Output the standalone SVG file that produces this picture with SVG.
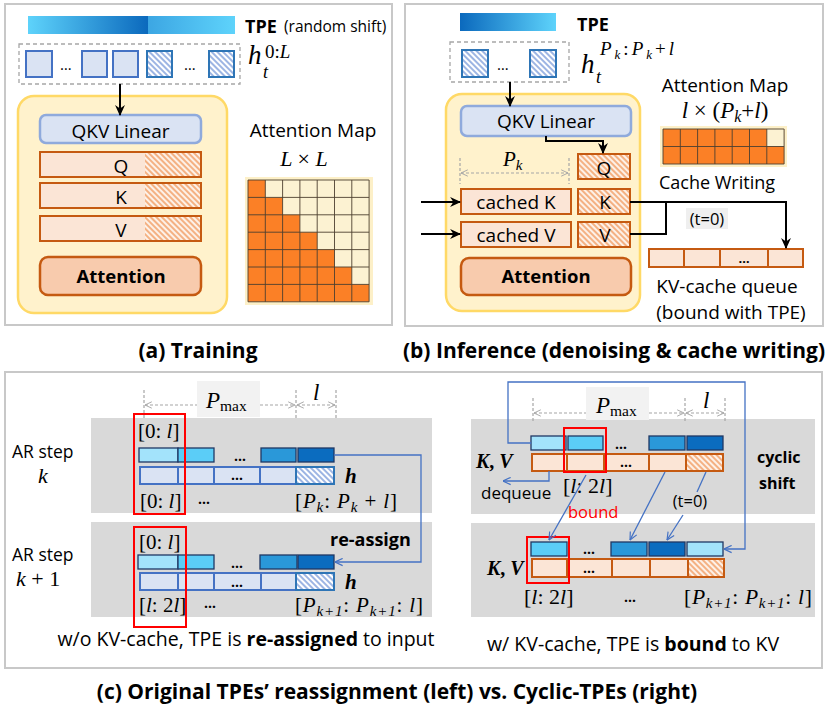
<svg xmlns="http://www.w3.org/2000/svg" width="830" height="707" viewBox="0 0 830 707">
<defs>
<style>
.sans{font-family:"Open Sans","Noto Sans","DejaVu Sans",sans-serif;fill:#000}
.b{font-weight:bold}
.math{font-family:"Liberation Serif","DejaVu Serif",serif;font-style:italic;fill:#000}
.rm{font-style:normal}
.panel{fill:#fff;stroke:#c8c8c8;stroke-width:2}
.hid{fill:#dae3f3;stroke:#4472c4;stroke-width:2}
.hidh{fill:url(#hb);stroke:#2e75b6;stroke-width:2}
.or{fill:#fbe5d6;stroke:#c55a11;stroke-width:2}
.orh{fill:url(#ho);stroke:#c55a11;stroke-width:2}
.cnt{fill:#fff2cc;stroke:#ffd966;stroke-width:2.5}
.qkv{fill:#dae3f3;stroke:#8faadc;stroke-width:2.5}
.att{fill:#f8cbad;stroke:#c55a11;stroke-width:2.5}
.band{fill:#d9d9d9}
.t1{fill:#a3e3fb;stroke:#1f3864;stroke-width:1.3}
.t2{fill:#5bcdf7;stroke:#1f3864;stroke-width:1.3}
.t3{fill:#2a98d9;stroke:#1f3864;stroke-width:1.3}
.t4{fill:#0b6cbf;stroke:#1f3864;stroke-width:1.3}
.dim{stroke:#a6a6a6;stroke-width:1.2;stroke-dasharray:3 2;fill:none}
.blu{stroke:#4472c4;stroke-width:1.3;fill:none}
.blk{stroke:#000;stroke-width:2;fill:none}
.red{fill:none;stroke:#ff0000;stroke-width:2}
.grid{stroke:#4d4030;stroke-width:0.9;fill:none}
.cap{font-size:21px;font-weight:bold}
</style>
<pattern id="hb" width="4" height="4" patternUnits="userSpaceOnUse" patternTransform="rotate(-45)"><rect width="4" height="4" fill="#ffffff"/><rect width="2" height="4" fill="#9db5e3"/></pattern>
<pattern id="ho" width="4" height="4" patternUnits="userSpaceOnUse" patternTransform="rotate(-45)"><rect width="4" height="4" fill="#fdf1e8"/><rect width="2" height="4" fill="#f4b183"/></pattern>
<linearGradient id="ga1" x1="0" x2="1" y1="0" y2="0"><stop offset="0" stop-color="#5ed3fb"/><stop offset="1" stop-color="#0b69bd"/></linearGradient>
<linearGradient id="ga2" x1="0" x2="1" y1="0" y2="0"><stop offset="0" stop-color="#3ca6e3"/><stop offset="1" stop-color="#5ed3fb"/></linearGradient>
<linearGradient id="gb" x1="0" x2="1" y1="0" y2="0"><stop offset="0" stop-color="#0b69bd"/><stop offset="1" stop-color="#5ed3fb"/></linearGradient>
<marker id="ab" viewBox="0 0 10 10" refX="9" refY="5" markerWidth="11" markerHeight="11" markerUnits="userSpaceOnUse" orient="auto"><path d="M0,0.5 L10,5 L0,9.5 L3,5 z" fill="#000"/></marker>
<marker id="abl" viewBox="0 0 10 10" refX="9.5" refY="5" markerWidth="9" markerHeight="9" markerUnits="userSpaceOnUse" orient="auto"><path d="M1,1 L9.5,5 L1,9" fill="none" stroke="#4472c4" stroke-width="1.3"/></marker>
<marker id="ag" viewBox="0 0 10 10" refX="9.5" refY="5" markerWidth="8" markerHeight="8" markerUnits="userSpaceOnUse" orient="auto-start-reverse"><path d="M1,1 L9.5,5 L1,9" fill="none" stroke="#a6a6a6" stroke-width="1.2"/></marker>
</defs>
<rect width="830" height="707" fill="#fff"/>

<!-- Panel (a) -->
<g id="panel-a">
<rect class="panel" x="5" y="4" width="387" height="321"/>
<g id="a-tpe">
<rect x="28" y="16" width="120" height="18" fill="url(#ga1)"/>
<rect x="148" y="16" width="87" height="18" fill="url(#ga2)"/>
<text class="sans b" x="245" y="33" font-size="18">TPE</text>
<text class="sans" x="284" y="32" font-size="15.5">(random shift)</text>
</g>
<g id="a-input">
<rect x="19" y="44" width="221" height="40" fill="none" stroke="#a6a6a6" stroke-width="1.3" stroke-dasharray="4 3"/>
<rect class="hid" x="26" y="51" width="26" height="26"/>
<text class="sans" x="60" y="70" font-size="15">…</text>
<rect class="hid" x="82" y="51" width="25" height="26"/>
<rect class="hid" x="113" y="51" width="25" height="26"/>
<rect class="hidh" x="147" y="51" width="25" height="26"/>
<text class="sans" x="184" y="70" font-size="15">…</text>
<rect class="hidh" x="209" y="51" width="25" height="26"/>
<text class="math" x="248" y="64" font-size="27">h</text>
<text class="math" x="263" y="78" font-size="18">t</text>
<text class="math" x="265" y="58" font-size="19"><tspan class="rm">0:</tspan>L</text>
</g>
<g id="a-block">
<rect class="cnt" x="18" y="96" width="209" height="217" rx="16"/>
<rect class="qkv" x="40" y="115" width="161" height="28" rx="6"/>
<text class="sans" x="120.5" y="138" font-size="19" text-anchor="middle">QKV Linear</text>
<rect class="or" x="40" y="152" width="161" height="25"/>
<rect x="145" y="153" width="55" height="23" fill="url(#ho)"/>
<text class="sans" x="121" y="173" font-size="19" text-anchor="middle">Q</text>
<rect class="or" x="40" y="183" width="161" height="25"/>
<rect x="145" y="184" width="55" height="23" fill="url(#ho)"/>
<text class="sans" x="121" y="204" font-size="19" text-anchor="middle">K</text>
<rect class="or" x="40" y="216" width="161" height="25"/>
<rect x="145" y="217" width="55" height="23" fill="url(#ho)"/>
<text class="sans" x="121" y="237" font-size="19" text-anchor="middle">V</text>
<rect class="att" x="40" y="257" width="161" height="38" rx="8"/>
<text class="sans b" x="121" y="283" font-size="18.5" text-anchor="middle">Attention</text>
</g>
<g id="a-map">
<text class="sans" x="313" y="137" font-size="19" text-anchor="middle">Attention Map</text>
<text class="math" x="304" y="166" font-size="22" text-anchor="middle">L <tspan class="rm">×</tspan> L</text>
<rect x="245" y="177" width="128" height="128" fill="#fdf0c8"/>
<rect x="248" y="180" width="121.1" height="121.8" fill="#fcf2d2"/>
<polygon points="248,180 265.3,180 265.3,197.4 282.6,197.4 282.6,214.8 299.9,214.8 299.9,232.2 317.2,232.2 317.2,249.6 334.5,249.6 334.5,267 351.8,267 351.8,284.4 369.1,284.4 369.1,301.8 248,301.8" fill="#fb8026"/>
<path class="grid" d="M248,180V301.8M265.3,180V301.8M282.6,180V301.8M299.9,180V301.8M317.2,180V301.8M334.5,180V301.8M351.8,180V301.8M369.1,180V301.8M248,180H369.1M248,197.4H369.1M248,214.8H369.1M248,232.2H369.1M248,249.6H369.1M248,267H369.1M248,284.4H369.1M248,301.8H369.1"/>
</g>
</g>

<!-- Panel (b) -->
<g id="panel-b">
<rect class="panel" x="405" y="4" width="418" height="322"/>
<g id="b-tpe">
<rect x="460" y="13" width="96" height="18" fill="url(#gb)"/>
<text class="sans b" x="577" y="31" font-size="18">TPE</text>
</g>
<g id="b-input">
<rect x="450" y="42" width="119" height="40" fill="none" stroke="#a6a6a6" stroke-width="1.3" stroke-dasharray="4 3"/>
<rect class="hidh" x="462" y="50" width="26" height="27"/>
<text class="sans" x="497" y="70" font-size="15">…</text>
<rect class="hidh" x="530" y="50" width="26" height="27"/>
<text class="math" x="581" y="73" font-size="27">h</text>
<text class="math" x="596" y="83" font-size="18">t</text>
<text class="math" x="600" y="55" font-size="19" textLength="74" lengthAdjust="spacing">P<tspan font-size="13" dy="4">k</tspan><tspan class="rm" dy="-4">:</tspan>P<tspan font-size="13" dy="4">k</tspan><tspan class="rm" dy="-4">+</tspan>l</text>
</g>
<g id="b-block">
<rect class="cnt" x="446" y="94" width="194" height="217" rx="16"/>
<rect class="qkv" x="461" y="106" width="170" height="30" rx="6"/>
<text class="sans" x="546" y="128" font-size="19" text-anchor="middle">QKV Linear</text>
<rect class="orh" x="578" y="154" width="52" height="25"/>
<text class="sans" x="604" y="175" font-size="19" text-anchor="middle">Q</text>
<path class="dim" d="M460,158V184M569,158V184"/>
<path class="dim" d="M461,173H568" marker-start="url(#ag)" marker-end="url(#ag)"/>
<text class="math" x="503" y="166" font-size="21">P<tspan font-size="15" dy="4">k</tspan></text>
<rect class="or" x="461" y="189" width="110" height="25"/>
<text class="sans" x="516" y="209" font-size="19" text-anchor="middle">cached K</text>
<rect class="orh" x="578" y="189" width="52" height="25"/>
<text class="sans" x="605" y="209" font-size="19" text-anchor="middle">K</text>
<rect class="or" x="461" y="222" width="110" height="25"/>
<text class="sans" x="516" y="242" font-size="19" text-anchor="middle">cached V</text>
<rect class="orh" x="578" y="222" width="52" height="25"/>
<text class="sans" x="605" y="242" font-size="19" text-anchor="middle">V</text>
<rect class="att" x="461" y="258" width="170" height="37" rx="8"/>
<text class="sans b" x="546" y="283" font-size="18.5" text-anchor="middle">Attention</text>
</g>
<g id="b-map">
<text class="sans" x="725" y="92" font-size="19" text-anchor="middle">Attention Map</text>
<text class="math" x="725" y="118" font-size="23" text-anchor="middle">l <tspan class="rm">× (</tspan>P<tspan font-size="16" dy="4">k</tspan><tspan class="rm" dy="-4">+</tspan>l<tspan class="rm">)</tspan></text>
<rect x="660" y="126" width="127" height="41" fill="#fdf0c8"/>
<rect x="663" y="129" width="121.1" height="35" fill="#fb8026"/>
<rect x="766.8" y="129" width="17.3" height="17.5" fill="#fcf2d2"/>
<path class="grid" d="M663,129V164M680.3,129V164M697.6,129V164M714.9,129V164M732.2,129V164M749.5,129V164M766.8,129V164M784.1,129V164M663,129H784.1M663,146.5H784.1M663,164H784.1"/>
<text class="sans" x="717" y="189" font-size="18" text-anchor="middle">Cache Writing</text>
</g>
<g id="b-queue">
<rect x="686" y="208" width="42" height="21" fill="#efefef"/>
<text class="sans" x="707" y="225" font-size="16.5" text-anchor="middle">(t=0)</text>
<rect class="or" x="649" y="249" width="35" height="18"/>
<rect class="or" x="684" y="249" width="36" height="18"/>
<rect class="or" x="720" y="249" width="48" height="18"/>
<rect class="or" x="768" y="249" width="35" height="18"/>
<text class="sans b" x="744" y="263" font-size="13" text-anchor="middle">…</text>
<text class="sans" x="727" y="293" font-size="19" text-anchor="middle">KV-cache queue</text>
<text class="sans" x="731" y="319" font-size="19" text-anchor="middle">(bound with TPE)</text>
</g>
</g>

<!-- Panel (c) -->
<g id="panel-c">
<rect class="panel" x="5" y="372" width="817" height="296"/>
<rect class="band" x="91" y="418" width="341" height="95"/>
<rect class="band" x="91" y="522" width="341" height="95"/>
<rect class="band" x="471" y="419" width="344" height="95"/>
<rect class="band" x="471" y="523" width="344" height="94"/>
<g id="c-labels">
<text class="sans" x="12" y="458" font-size="17.5">AR step</text>
<text class="math" x="38" y="483" font-size="22">k</text>
<text class="sans" x="12" y="561" font-size="17.5">AR step</text>
<text class="math" x="16" y="586" font-size="22">k <tspan class="rm">+ 1</tspan></text>
</g>
<g id="c-left-dim">
<path class="dim" d="M144,390V418M296,390V418M336,390V418"/>
<path class="dim" d="M145,405H295" marker-start="url(#ag)" marker-end="url(#ag)"/>
<path class="dim" d="M297,405H335" marker-start="url(#ag)" marker-end="url(#ag)"/>
<rect x="197" y="381" width="63" height="36" fill="#f2f2f2"/>
<text class="math" x="206" y="408" font-size="23">P<tspan class="rm" font-size="15.5" dy="3">max</tspan></text>
<text class="math" x="313" y="400" font-size="23">l</text>
</g>
<g id="c-left-k">
<text class="math" x="138" y="438" font-size="21"><tspan class="rm">[0: </tspan>l<tspan class="rm">]</tspan></text>
<rect class="t1" x="139" y="448" width="39" height="14"/>
<rect class="t2" x="178" y="448" width="36" height="14"/>
<text class="sans b" x="240" y="461" font-size="14" text-anchor="middle">…</text>
<rect class="t3" x="261" y="448" width="35" height="14"/>
<rect class="t4" x="298" y="448" width="36" height="14"/>
<rect class="hid" x="140" y="467" width="38" height="17"/>
<rect class="hid" x="178" y="467" width="36" height="17"/>
<rect class="hid" x="214" y="467" width="46" height="17"/>
<rect class="hid" x="260" y="467" width="36" height="17"/>
<rect class="hidh" x="296" y="467" width="38" height="17"/>
<text class="sans b" x="237" y="480" font-size="14" text-anchor="middle">…</text>
<text class="math b" x="345" y="483" font-size="21">h</text>
<text class="math" x="140" y="508" font-size="21"><tspan class="rm">[0: </tspan>l<tspan class="rm">]</tspan></text>
<text class="sans b" x="198" y="504" font-size="14">…</text>
<text class="math" x="295" y="508" font-size="21" textLength="102" lengthAdjust="spacing"><tspan class="rm">[</tspan>P<tspan font-size="15" dy="4">k</tspan><tspan class="rm" dy="-4">: </tspan>P<tspan font-size="15" dy="4">k</tspan><tspan class="rm" dy="-4"> + </tspan>l<tspan class="rm">]</tspan></text>
</g>
<g id="c-left-k1">
<text class="sans b" x="330" y="546" font-size="18">re-assign</text>
<text class="math" x="139" y="549" font-size="21"><tspan class="rm">[0: </tspan>l<tspan class="rm">]</tspan></text>
<rect class="t1" x="138" y="555" width="40" height="14"/>
<rect class="t2" x="178" y="555" width="36" height="14"/>
<text class="sans b" x="237" y="568" font-size="14" text-anchor="middle">…</text>
<rect class="t3" x="260" y="555" width="37" height="14"/>
<rect class="t4" x="298" y="555" width="36" height="14"/>
<rect class="hid" x="140" y="573" width="38" height="17"/>
<rect class="hid" x="178" y="573" width="36" height="17"/>
<rect class="hid" x="214" y="573" width="47" height="17"/>
<rect class="hid" x="261" y="573" width="35" height="17"/>
<rect class="hidh" x="296" y="573" width="38" height="17"/>
<text class="sans b" x="237" y="587" font-size="14" text-anchor="middle">…</text>
<text class="math b" x="345" y="589" font-size="21">h</text>
<text class="math" x="139" y="612" font-size="21"><tspan class="rm">[</tspan>l<tspan class="rm">: 2</tspan>l<tspan class="rm">]</tspan></text>
<text class="sans b" x="204" y="608" font-size="14">…</text>
<text class="math" x="295" y="612" font-size="21" textLength="128" lengthAdjust="spacing"><tspan class="rm">[</tspan>P<tspan font-size="15" dy="4">k+1</tspan><tspan class="rm" dy="-4">: </tspan>P<tspan font-size="15" dy="4">k+1</tspan><tspan class="rm" dy="-4">: </tspan>l<tspan class="rm">]</tspan></text>
</g>
<rect class="red" x="134" y="414" width="51" height="100"/>
<rect class="red" x="134" y="527" width="52" height="100"/>
<text class="sans" x="246" y="646" font-size="19.5" text-anchor="middle">w/o KV-cache, TPE is <tspan class="b">re-assigned</tspan> to input</text>

<g id="c-right-dim">
<path class="dim" d="M533,398V422M685,398V422M725,398V422"/>
<path class="dim" d="M534,413H684" marker-start="url(#ag)" marker-end="url(#ag)"/>
<path class="dim" d="M686,413H724" marker-start="url(#ag)" marker-end="url(#ag)"/>
<rect x="586" y="387" width="63" height="33" fill="#f2f2f2"/>
<text class="math" x="596" y="413" font-size="23">P<tspan class="rm" font-size="15.5" dy="3">max</tspan></text>
<text class="math" x="703" y="408" font-size="23">l</text>
</g>
<g id="c-right-k">
<rect class="t1" x="531" y="436" width="35" height="14"/>
<rect class="t2" x="568" y="436" width="35" height="14"/>
<text class="sans b" x="621" y="449" font-size="14" text-anchor="middle">…</text>
<rect class="t3" x="649" y="436" width="36" height="14"/>
<rect class="t4" x="687" y="436" width="36" height="14"/>
<rect class="or" x="532" y="454" width="35" height="17"/>
<rect class="or" x="567" y="454" width="37" height="17"/>
<rect class="or" x="604" y="454" width="45" height="17"/>
<rect class="or" x="649" y="454" width="37" height="17"/>
<rect class="orh" x="686" y="454" width="37" height="17"/>
<text class="sans b" x="626" y="467" font-size="14" text-anchor="middle">…</text>
<text class="math b" x="476" y="468" font-size="20">K<tspan class="rm">, </tspan>V</text>
<text class="sans" x="481" y="499" font-size="17">dequeue</text>
<text class="math" x="563" y="493" font-size="22"><tspan class="rm">[</tspan>l<tspan class="rm">: 2</tspan>l<tspan class="rm">]</tspan></text>
<text class="sans" x="568" y="518" font-size="16.5" style="fill:#ff0000">bound</text>
<text class="sans b" x="757" y="463" font-size="16">cyclic</text>
<text class="sans b" x="759" y="489" font-size="16">shift</text>
<text class="sans" x="690" y="507" font-size="16.5" text-anchor="middle">(t=0)</text>
</g>
<g id="c-right-k1">
<rect class="t2" x="531" y="542" width="36" height="14"/>
<text class="sans b" x="589" y="554" font-size="14" text-anchor="middle">…</text>
<rect class="t3" x="611" y="542" width="36" height="14"/>
<rect class="t4" x="649" y="542" width="36" height="14"/>
<rect class="t1" x="687" y="542" width="36" height="14"/>
<rect class="or" x="532" y="559" width="35" height="18"/>
<rect class="or" x="567" y="559" width="45" height="18"/>
<rect class="or" x="612" y="559" width="38" height="18"/>
<rect class="or" x="650" y="559" width="38" height="18"/>
<rect class="orh" x="688" y="559" width="36" height="18"/>
<text class="sans b" x="589" y="573" font-size="14" text-anchor="middle">…</text>
<text class="math b" x="487" y="575" font-size="20">K<tspan class="rm">, </tspan>V</text>
<text class="math" x="524" y="604" font-size="22"><tspan class="rm">[</tspan>l<tspan class="rm">: 2</tspan>l<tspan class="rm">]</tspan></text>
<text class="sans b" x="630" y="602" font-size="14" text-anchor="middle">…</text>
<text class="math" x="684" y="604" font-size="21.5" textLength="128" lengthAdjust="spacing"><tspan class="rm">[</tspan>P<tspan font-size="15" dy="4">k+1</tspan><tspan class="rm" dy="-4">: </tspan>P<tspan font-size="15" dy="4">k+1</tspan><tspan class="rm" dy="-4">: </tspan>l<tspan class="rm">]</tspan></text>
</g>
<rect class="red" x="564" y="428" width="42" height="44"/>
<rect class="red" x="527" y="537" width="42" height="46"/>
<text class="sans" x="487" y="651" font-size="19.5">w/ KV-cache, TPE is <tspan class="b">bound</tspan> to KV</text>
</g>

<!-- Connectors -->
<g id="connectors">
<path class="blk" d="M120,84V115" marker-end="url(#ab)"/>
<path class="blk" d="M510,82V106" marker-end="url(#ab)"/>
<path class="blk" d="M546,136V141H603V153" stroke-width="1.6" marker-end="url(#ab)"/>
<path class="blk" d="M421,202H460" marker-end="url(#ab)"/>
<path class="blk" d="M421,234H460" marker-end="url(#ab)"/>
<path class="blk" d="M630,202H786V248" stroke-width="1.6" marker-end="url(#ab)"/>
<path class="blk" d="M630,234H666V202" stroke-width="1.6"/>
<path class="blu" d="M334,455H421V562H335" marker-end="url(#abl)"/>
<path class="blu" d="M531,443H508V382H745V549H724" marker-end="url(#abl)"/>
<path class="blu" d="M549,471V481H503" marker-end="url(#abl)"/>
<path class="blu" d="M586,475L549,540" marker-end="url(#abl)"/>
<path class="blu" d="M665,472L630,540" marker-end="url(#abl)"/>
<path class="blu" d="M706,472L697,492"/>
<path class="blu" d="M683,515L667,540" marker-end="url(#abl)"/>
</g>

<!-- Captions -->
<text class="sans cap" x="198" y="358" text-anchor="middle">(a) Training</text>
<text class="sans cap" x="614" y="358" text-anchor="middle">(b) Inference (denoising &amp; cache writing)</text>
<text class="sans cap" x="397" y="699" text-anchor="middle">(c) Original TPEs’ reassignment (left) vs. Cyclic-TPEs (right)</text>
</svg>
